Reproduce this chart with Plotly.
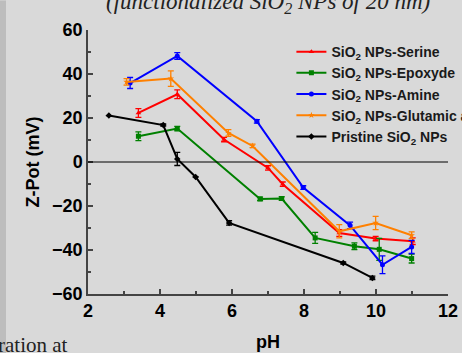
import plotly.graph_objects as go

# ---- data ----
serine_x = [3.40, 4.48, 5.78, 7.00, 7.41, 8.98, 9.99, 11.02]
serine_y = [22.3, 30.8, 10.2, -2.7, -10.1, -32.3, -34.8, -36.0]
serine_e = [2.0, 2.0, 1.0, 1.0, 1.0, 1.5, 1.0, 1.5]

epoxyde_x = [3.40, 4.48, 6.78, 7.38, 8.31, 9.40, 10.09, 10.99]
epoxyde_y = [11.7, 15.2, -16.8, -16.6, -34.5, -38.3, -39.7, -43.9]
epoxyde_e = [2.0, 1.0, 0.8, 0.8, 2.5, 1.5, 5.0, 2.0]

amine_x = [3.17, 4.48, 6.69, 7.98, 9.28, 10.18, 10.99]
amine_y = [35.9, 48.2, 18.5, -11.6, -28.8, -46.7, -38.6]
amine_e = [2.5, 1.5, 0.8, 0.8, 1.5, 4.0, 3.0]

glutamic_x = [3.07, 4.30, 5.90, 6.57, 8.98, 9.99, 10.99]
glutamic_y = [36.4, 37.9, 13.2, 7.3, -31.5, -27.7, -33.3]
glutamic_e = [1.5, 3.5, 1.5, 0.8, 3.0, 3.0, 1.5]

pristine_x = [2.58, 4.09, 4.48, 4.99, 5.92, 9.09, 9.90]
pristine_y = [21.1, 16.8, 1.4, -6.8, -27.7, -45.9, -52.7]
pristine_e = [0.0, 0.5, 3.0, 0.0, 1.0, 0.5, 0.8]

names = ["SiO<sub>2</sub> NPs-Serine", "SiO<sub>2</sub> NPs-Epoxyde",
         "SiO<sub>2</sub> NPs-Amine", "SiO<sub>2</sub> NPs-Glutamic acid",
         "Pristine SiO<sub>2</sub> NPs"]
x_ticks = [2, 4, 6, 8, 10, 12]
y_ticks = [-60, -40, -20, 0, 20, 40, 60]

series = [
    (serine_x, serine_y, serine_e, "#ff0000", "triangle-up"),
    (epoxyde_x, epoxyde_y, epoxyde_e, "#008000", "square"),
    (amine_x, amine_y, amine_e, "#0000ff", "circle"),
    (glutamic_x, glutamic_y, glutamic_e, "#ff8000", "star"),
    (pristine_x, pristine_y, pristine_e, "#000000", "diamond"),
]

fig = go.Figure()
for (xs, ys, es, col, sym), nm in zip(series, names):
    fig.add_trace(go.Scatter(
        x=xs, y=ys, name=nm, mode="lines+markers",
        line=dict(color=col, width=2),
        marker=dict(color=col, symbol=sym, size=5),
        error_y=dict(type="data", array=es, color=col, thickness=1.3, width=3),
    ))

W, H = 462, 353
L, R, T, B = 88, 14, 29.5, 59
PW, PH = W - L - R, H - T - B
fig.update_layout(
    width=W, height=H,
    margin=dict(l=L, r=R, t=T, b=B, pad=0, autoexpand=False),
    paper_bgcolor="#d9d9d9", plot_bgcolor="#d9d9d9",
    font=dict(family="Arial", color="#000000"),
    showlegend=True,
    legend=dict(x=0.565, y=0.977, xanchor="left", yanchor="top",
                bgcolor="rgba(0,0,0,0)",
                font=dict(size=14, family="Arial", weight="bold", color="#1a1a1a"),
                itemwidth=30, tracegroupgap=0),
    xaxis=dict(range=[2, 12], tickvals=x_ticks, ticks="inside", ticklen=5,
               tickwidth=1.5, tickcolor="#444", automargin=False,
               minor=dict(dtick=1, ticks="inside", ticklen=3, tickcolor="#444", tickwidth=1.5),
               showline=True, linecolor="#444", linewidth=1.5, showgrid=False,
               zeroline=False,
               tickfont=dict(size=18, family="Arial", weight="bold"),
               title=dict(text="<b>pH</b>", font=dict(size=18), standoff=15)),
    yaxis=dict(range=[-60, 60], tickvals=y_ticks, ticks="inside", ticklen=5,
               tickwidth=1.5, tickcolor="#444", automargin=False,
               minor=dict(dtick=10, ticks="inside", ticklen=3, tickcolor="#444", tickwidth=1.5),
               showline=True, linecolor="#444", linewidth=1.5, showgrid=False,
               zeroline=False,
               tickfont=dict(size=18, family="Arial", weight="bold"),
               title=dict(text="<b>Z-Pot (mV)</b>", font=dict(size=18), standoff=8)),
)
# zero line
fig.add_shape(type="line", xref="x", yref="y", x0=2, x1=12, y0=0, y1=0,
              line=dict(color="#000000", width=1))
# darker left edge of the scanned page
fig.add_shape(type="rect", xref="paper", yref="paper",
              x0=-L / PW, x1=(6 - L) / PW, y0=-B / PH, y1=(H - B) / PH,
              fillcolor="#bdbdbd", line=dict(width=0), layer="below")
# partially cut caption text
fig.add_annotation(xref="paper", yref="paper", x=(268 - L) / PW, y=1, xanchor="center",
                   yanchor="bottom", yshift=11, showarrow=False,
                   text="<i>(functionalized SiO<sub>2</sub> NPs of 20 nm)</i>",
                   font=dict(family="Liberation Serif", size=23, color="#222"))
fig.add_annotation(xref="paper", yref="paper", x=(70 - L) / PW, y=-B / PH,
                   xanchor="right", yanchor="bottom", yshift=-6, showarrow=False,
                   text="ration at",
                   font=dict(family="Liberation Serif", size=21, color="#222"))

fig.write_html("out.html", config={"displayModeBar": False},
               post_script="document.body.style.margin='0';document.body.style.background='#d9d9d9';")
